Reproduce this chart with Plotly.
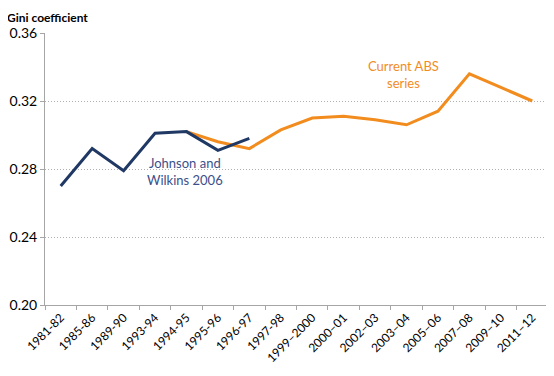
import plotly.graph_objects as go

categories = ["1981-82", "1985-86", "1989-90", "1993-94", "1994-95", "1995-96",
              "1996-97", "1997-98", "1999\u20132000", "2000\u201301", "2002\u201303",
              "2003\u201304", "2005\u201306", "2007\u201308", "2009\u201310", "2011\u201312"]

jw_categories = categories[:7]
jw_values = [0.270, 0.292, 0.279, 0.301, 0.302, 0.291, 0.298]

abs_categories = categories[4:]
abs_values = [0.302, 0.296, 0.292, 0.303, 0.310, 0.311, 0.309, 0.306, 0.314,
              0.336, 0.328, 0.320]

y_ticks = [0.20, 0.24, 0.28, 0.32, 0.36]

FONT = "Lato, 'Open Sans', sans-serif"
NAVY = "#1f3864"
ORANGE = "#f28c1e"

fig = go.Figure()
fig.add_trace(go.Scatter(x=abs_categories, y=abs_values, mode="lines",
                         line=dict(color=ORANGE, width=3), showlegend=False))
fig.add_trace(go.Scatter(x=jw_categories, y=jw_values, mode="lines",
                         line=dict(color=NAVY, width=3), showlegend=False))

fig.update_layout(
    width=546, height=368,
    margin=dict(l=37, r=6, t=25, b=71),
    paper_bgcolor="white", plot_bgcolor="white",
    font=dict(family=FONT, color="#000000"),
    xaxis=dict(type="category", categoryorder="array", categoryarray=categories,
               range=[-0.5, len(categories) - 0.5], automargin=False,
               tickangle=-45, tickfont=dict(size=12, family=FONT),
               showgrid=False, showline=True, linecolor="#a6a6a6", linewidth=1,
               ticks="outside", tickson="boundaries", ticklen=4, tickcolor="#a6a6a6",
               zeroline=False),
    yaxis=dict(range=[0.20, 0.36], tickvals=y_ticks, automargin=False,
               ticktext=[f"{v:.2f}" for v in y_ticks],
               tickfont=dict(size=14, family=FONT),
               showgrid=True, gridcolor="#b0b0b0", griddash="1px,2px", gridwidth=1,
               showline=True, linecolor="#a6a6a6", linewidth=1,
               ticks="outside", ticklen=4, tickcolor="#a6a6a6", zeroline=False),
    annotations=[
        dict(text="<b>Gini coefficient</b>", xref="paper", yref="paper",
             x=-40/503, y=1 + 25/272, xanchor="left", yanchor="top",
             showarrow=False, font=dict(size=12, family=FONT, color="#000000")),
        dict(text="Current ABS<br>series", xref="x", yref="y",
             x=10.9, y=0.3353, xanchor="center", yanchor="middle",
             showarrow=False, align="center",
             font=dict(size=13, family=FONT, color=ORANGE)),
        dict(text="Johnson and<br>Wilkins 2006", xref="x", yref="y",
             x=3.95, y=0.2785, xanchor="center", yanchor="middle",
             showarrow=False, align="center",
             font=dict(size=13, family=FONT, color="#3c4f8a")),
    ],
)

fig.write_html("out.html")
